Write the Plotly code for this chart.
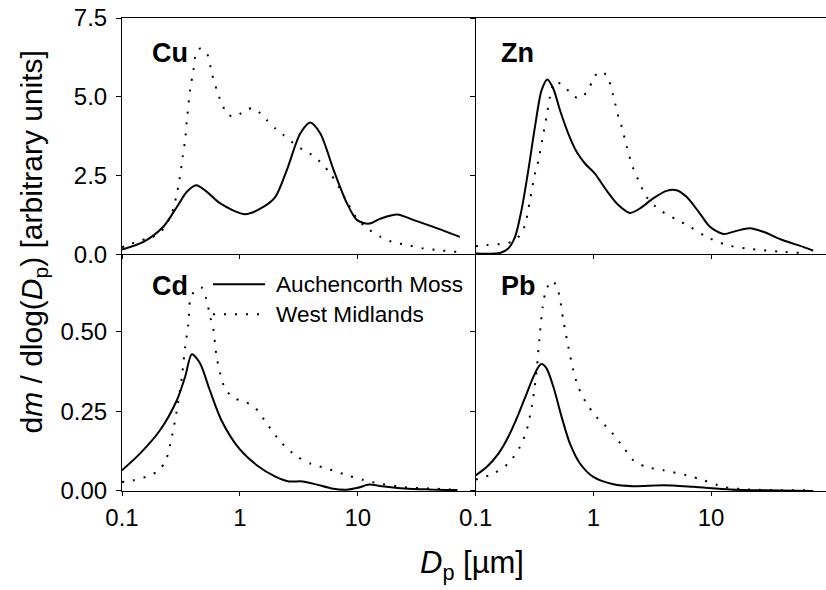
import math
import plotly.graph_objects as go

# ---------------- data ----------------
cu_am_x = [0.1, 0.152, 0.224, 0.292, 0.355, 0.426, 0.525, 0.681, 1.11, 1.58, 2.0, 2.5, 3.25, 3.95, 4.81, 6.24, 8.1, 9.86, 12.4, 15.6, 21.6, 29.9, 47.2, 73.4]
cu_am_y = [0.15, 0.39, 0.87, 1.50, 1.98, 2.19, 1.98, 1.61, 1.27, 1.50, 1.82, 2.67, 3.83, 4.18, 3.83, 2.67, 1.61, 1.08, 0.97, 1.13, 1.26, 1.08, 0.82, 0.55]
cu_wm_x = [0.1, 0.117, 0.142, 0.173, 0.217, 0.264, 0.288, 0.307, 0.327, 0.343, 0.354, 0.378, 0.404, 0.425, 0.460, 0.524, 0.578, 0.658, 0.716, 0.774, 0.942, 1.09, 1.31, 1.49, 1.69, 2.0, 2.35, 2.86, 3.47, 4.09, 4.81, 5.85, 6.88, 8.1, 9.86, 12.0, 15.6, 19.5, 26.2, 36.3, 47.1, 69.7]
cu_wm_y = [0.22, 0.31, 0.44, 0.50, 0.74, 1.29, 1.82, 2.35, 3.09, 3.62, 4.20, 5.21, 5.85, 6.38, 6.53, 6.38, 5.74, 5.05, 4.73, 4.44, 4.38, 4.57, 4.63, 4.47, 4.26, 3.99, 3.78, 3.52, 3.30, 3.15, 2.93, 2.56, 2.14, 1.66, 1.13, 0.82, 0.55, 0.39, 0.29, 0.18, 0.13, 0.07]

zn_am_x = [0.1, 0.161, 0.189, 0.216, 0.245, 0.280, 0.319, 0.363, 0.406, 0.456, 0.520, 0.612, 0.720, 0.847, 1.03, 1.29, 1.63, 2.04, 2.48, 3.22, 4.18, 5.08, 6.18, 8.03, 9.77, 12.7, 16.4, 21.3, 27.7, 40.9, 60.5, 73.6]
zn_am_y = [0.02, 0.04, 0.18, 0.55, 1.40, 2.67, 4.05, 5.21, 5.55, 5.26, 4.57, 3.83, 3.25, 2.88, 2.56, 2.03, 1.56, 1.31, 1.45, 1.77, 2.01, 2.03, 1.82, 1.29, 0.87, 0.64, 0.74, 0.82, 0.71, 0.44, 0.23, 0.11]
zn_wm_x = [0.1, 0.124, 0.172, 0.205, 0.235, 0.262, 0.289, 0.319, 0.340, 0.376, 0.406, 0.428, 0.472, 0.574, 0.675, 0.779, 0.877, 0.986, 1.10, 1.29, 1.47, 1.63, 1.74, 1.92, 2.18, 2.41, 2.83, 3.67, 5.09, 6.61, 9.16, 13.6, 20.1, 41.1, 60.7]
zn_wm_y = [0.25, 0.29, 0.33, 0.40, 0.58, 0.92, 1.72, 2.56, 2.95, 3.83, 4.52, 5.00, 5.48, 5.30, 5.02, 4.95, 5.16, 5.50, 5.79, 5.69, 5.05, 4.36, 4.05, 3.41, 2.72, 2.35, 1.82, 1.40, 1.10, 0.87, 0.55, 0.29, 0.18, 0.07, 0.04]

cd_am_x = [0.1, 0.142, 0.210, 0.292, 0.343, 0.391, 0.46, 0.55, 0.7, 1.0, 1.4, 2.0, 2.6, 3.4, 4.5, 6.0, 8.0, 10.0, 12.5, 16.0, 25.0, 40.0, 70.0]
cd_am_y = [0.065, 0.117, 0.19, 0.284, 0.357, 0.428, 0.399, 0.32, 0.22, 0.13, 0.08, 0.045, 0.03, 0.03, 0.02, 0.008, 0.004, 0.01, 0.02, 0.015, 0.008, 0.005, 0.003]
cd_wm_x = [0.1, 0.124, 0.173, 0.205, 0.235, 0.265, 0.292, 0.322, 0.343, 0.366, 0.379, 0.417, 0.475, 0.517, 0.56, 0.597, 0.638, 0.75, 0.9, 1.1, 1.35, 1.7, 2.2, 3.0, 4.0, 5.5, 8.0, 11.0, 16.0, 25.0, 40.0, 70.0]
cd_wm_y = [0.028, 0.033, 0.049, 0.065, 0.095, 0.17, 0.253, 0.357, 0.451, 0.524, 0.597, 0.628, 0.636, 0.602, 0.545, 0.503, 0.415, 0.32, 0.29, 0.28, 0.26, 0.21, 0.155, 0.11, 0.085, 0.07, 0.05, 0.035, 0.022, 0.012, 0.008, 0.004]

pb_am_x = [0.1, 0.124, 0.156, 0.189, 0.223, 0.271, 0.309, 0.341, 0.363, 0.401, 0.457, 0.537, 0.632, 0.769, 0.998, 1.48, 2.18, 3.93, 7.06, 14.5, 27.8, 73.8]
pb_am_y = [0.049, 0.075, 0.117, 0.169, 0.227, 0.305, 0.357, 0.388, 0.397, 0.383, 0.326, 0.232, 0.148, 0.086, 0.044, 0.021, 0.015, 0.018, 0.013, 0.005, 0.002, 0.0]
pb_wm_x = [0.1, 0.141, 0.189, 0.238, 0.271, 0.299, 0.325, 0.347, 0.371, 0.401, 0.451, 0.504, 0.555, 0.612, 0.675, 0.743, 0.875, 1.06, 1.38, 1.79, 2.18, 2.83, 3.93, 6.20, 8.58, 12.7, 20.0, 73.8]
pb_wm_y = [0.036, 0.054, 0.086, 0.138, 0.190, 0.263, 0.357, 0.472, 0.576, 0.634, 0.658, 0.623, 0.534, 0.451, 0.378, 0.326, 0.274, 0.232, 0.190, 0.138, 0.096, 0.075, 0.065, 0.049, 0.034, 0.013, 0.005, 0.002]

series_names = ["Auchencorth Moss", "West Midlands"]
panel_labels = ["Cu", "Zn", "Cd", "Pb"]
x_tickvals = [0.1, 1, 10]
x_ticktext = ["0.1", "1", "10"]
top_yticks = [0, 2.5, 5.0, 7.5]
bot_yticks = [0, 0.25, 0.50]

# ---------------- figure ----------------
FONT = "Liberation Sans, Arial, sans-serif"
DOT = "2px,9px"
solid = dict(color="black", width=2, shape="spline", smoothing=0.8)
dotted = dict(color="black", width=2, dash=DOT, shape="spline", smoothing=0.8)

panels = [
    ("x", "y", cu_am_x, cu_am_y, cu_wm_x, cu_wm_y),
    ("x2", "y2", zn_am_x, zn_am_y, zn_wm_x, zn_wm_y),
    ("x3", "y3", cd_am_x, cd_am_y, cd_wm_x, cd_wm_y),
    ("x4", "y4", pb_am_x, pb_am_y, pb_wm_x, pb_wm_y),
]

fig = go.Figure()
for i, (xa, ya, ax, ay, wx, wy) in enumerate(panels):
    fig.add_trace(go.Scatter(x=ax, y=ay, mode="lines", line=solid, name=series_names[0],
                             xaxis=xa, yaxis=ya, showlegend=False))
    fig.add_trace(go.Scatter(x=wx, y=wy, mode="lines", line=dotted, name=series_names[1],
                             xaxis=xa, yaxis=ya, showlegend=False))

dom_l = [0, 0.5024]
dom_r = [0.5024, 1]
dom_b = [0, 0.5007]
dom_t = [0.5007, 1]

TICKSIZE = 24

def xax(domain, rng, anchor, labels, mirror):
    return dict(type="log", domain=domain, range=rng, anchor=anchor,
                tickvals=x_tickvals, ticktext=x_ticktext, showticklabels=labels,
                ticks="outside", ticklen=4, tickwidth=1, tickcolor="black",
                ticklabelstandoff=1,
                showline=True, linecolor="black", linewidth=1, mirror=mirror,
                showgrid=False, zeroline=False,
                tickfont=dict(family=FONT, size=TICKSIZE, color="black"))

def yax(domain, rng, anchor, tickvals, fmt, labels):
    return dict(domain=domain, range=rng, anchor=anchor, tickvals=tickvals,
                tickformat=fmt, showticklabels=labels,
                ticks="outside", ticklen=5, tickwidth=1, tickcolor="black",
                ticklabelstandoff=4,
                showline=True, linecolor="black", linewidth=1,
                showgrid=False, zeroline=False,
                tickfont=dict(family=FONT, size=TICKSIZE, color="black"))

r_left = [-1, 2]
r_right = [-1, math.log10(94.6)]

fig.update_layout(
    width=826, height=590,
    margin=dict(l=122, r=0, t=18, b=99),
    paper_bgcolor="white", plot_bgcolor="white",
    font=dict(family=FONT, size=22, color="black"),
    xaxis=xax(dom_l, r_left, "y", False, True),
    xaxis2=xax(dom_r, r_right, "y2", False, True),
    xaxis3=xax(dom_l, r_left, "y3", True, False),
    xaxis4=xax(dom_r, r_right, "y4", True, False),
    yaxis=yax(dom_t, [0, 7.5], "x", top_yticks, ".1f", True),
    yaxis2=yax(dom_t, [0, 7.5], "x2", top_yticks, ".1f", False),
    yaxis3=yax(dom_b, [0, 0.741], "x3", bot_yticks, ".2f", True),
    yaxis4=yax(dom_b, [0, 0.741], "x4", bot_yticks, ".2f", False),
    showlegend=False,
)

annots = []
label_pos = [("x domain", "y domain", 0.079, 0.852),
             ("x2 domain", "y2 domain", 0.067, 0.852),
             ("x3 domain", "y3 domain", 0.079, 0.865),
             ("x4 domain", "y4 domain", 0.067, 0.865)]
for lab, (xr, yr, px, py) in zip(panel_labels, label_pos):
    annots.append(dict(text="<b>%s</b>" % lab, xref=xr, yref=yr, x=px, y=py,
                       xanchor="left", yanchor="middle", showarrow=False,
                       font=dict(family=FONT, size=27, color="black")))

# legend (inside Cd panel)
leg_rows = [0.873, 0.746]
leg_dash = ["solid", DOT]
shapes = []
for name, yy, dsh in zip(series_names, leg_rows, leg_dash):
    shapes.append(dict(type="line", xref="x3 domain", yref="y3 domain",
                       x0=0.2573, x1=0.4043, y0=yy, y1=yy,
                       line=dict(color="black", width=2, dash=dsh)))
    annots.append(dict(text=name, xref="x3 domain", yref="y3 domain",
                       x=0.4297, y=yy, xanchor="left", yanchor="middle",
                       showarrow=False, font=dict(family=FONT, size=22.6, color="black")))

annots.append(dict(text="d<i>m</i> / dlog(<i>D</i><sub>p</sub>) [arbitrary units]",
                   xref="paper", yref="paper", x=-0.126, y=0.528, textangle=-90,
                   xanchor="center", yanchor="middle", showarrow=False,
                   font=dict(family=FONT, size=30, color="black")))
annots.append(dict(text="<i>D</i><sub>p</sub> [µm]",
                   xref="paper", yref="paper", x=0.497, y=-0.157,
                   xanchor="center", yanchor="middle", showarrow=False,
                   font=dict(family=FONT, size=31, color="black")))
fig.update_layout(annotations=annots, shapes=shapes)

fig.write_html("out.html")
